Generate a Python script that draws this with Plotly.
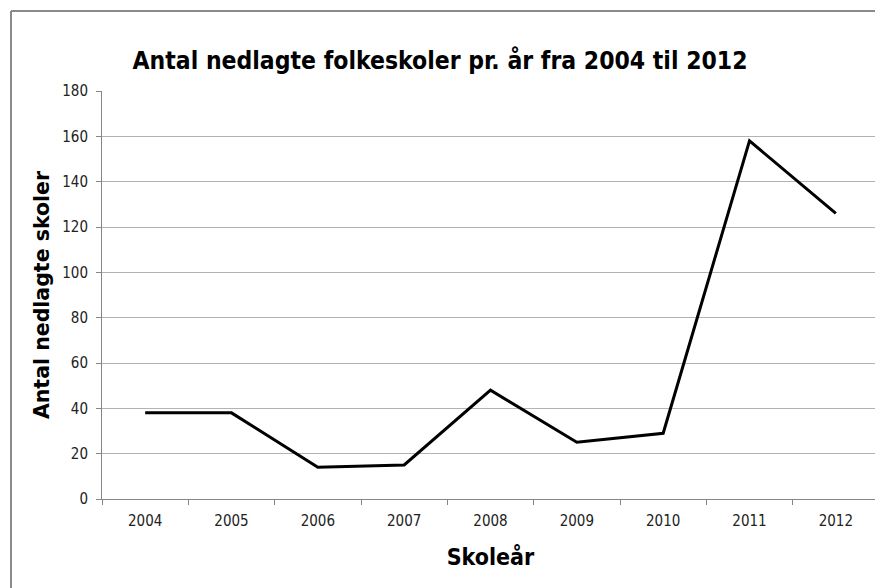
import plotly.graph_objects as go

years = ["2004", "2005", "2006", "2007", "2008", "2009", "2010", "2011", "2012"]
closed = [38, 38, 14, 15, 48, 25, 29, 158, 126]
y_ticks = [0, 20, 40, 60, 80, 100, 120, 140, 160, 180]

title_text = "Antal nedlagte folkeskoler pr. år fra 2004 til 2012"
x_title = "Skoleår"
y_title = "Antal nedlagte skoler"

narrow = "DejaVu Sans Condensed, Liberation Sans Narrow, Arial Narrow, sans-serif"
# page body has an 8px margin, so the figure is shrunk by that much
W, H = 875, 580
L, R, T, B = 94, 4, 83, 89

fig = go.Figure()
fig.add_trace(go.Scatter(
    x=years, y=closed, mode="lines",
    line=dict(color="black", width=3),
    hoverinfo="x+y", showlegend=False,
))

pw = W - L - R
ph = H - T - B
bx = (3 - L) / pw
by = 1 + (T - 3) / ph
fig.add_shape(type="line", xref="paper", yref="paper",
              x0=bx, x1=(W + 20 - L) / pw, y0=by, y1=by,
              line=dict(color="#8a8a8a", width=2))
fig.add_shape(type="line", xref="paper", yref="paper",
              x0=bx, x1=bx, y0=by, y1=-(B + 20) / ph,
              line=dict(color="#8a8a8a", width=2))

fig.update_layout(
    width=W, height=H,
    margin=dict(l=L, r=R, t=T, b=B, autoexpand=False),
    paper_bgcolor="white", plot_bgcolor="white",
    title=dict(text=title_text, x=432 / W, xref="container", xanchor="center",
               y=1 - 52 / H, yref="container", yanchor="middle",
               font=dict(family=narrow, size=24.5, color="black", weight="bold")),
    xaxis=dict(
        type="category", range=[-0.5, 8.5],
        showline=True, linecolor="#868686", linewidth=1,
        ticks="outside", tickson="boundaries", ticklen=5, tickcolor="#868686",
        ticklabelstandoff=8,
        showgrid=False, zeroline=False,
        tickfont=dict(family=narrow, size=15, color="#222222"),
        title=dict(text=x_title, standoff=19,
                   font=dict(family=narrow, size=23, color="black", weight="bold")),
    ),
    yaxis=dict(
        range=[0, 180], tickvals=y_ticks,
        showline=True, linecolor="#868686", linewidth=1,
        ticks="outside", ticklen=5, tickcolor="#868686",
        ticklabelstandoff=5,
        showgrid=True, gridcolor="#b3b3b3", gridwidth=1,
        zeroline=False,
        tickfont=dict(family=narrow, size=15, color="#222222"),
        title=dict(text=y_title, standoff=7,
                   font=dict(family="DejaVu Sans, Verdana, sans-serif", size=20.5,
                             color="black", weight="bold")),
    ),
)

fig.write_html("out.html")
